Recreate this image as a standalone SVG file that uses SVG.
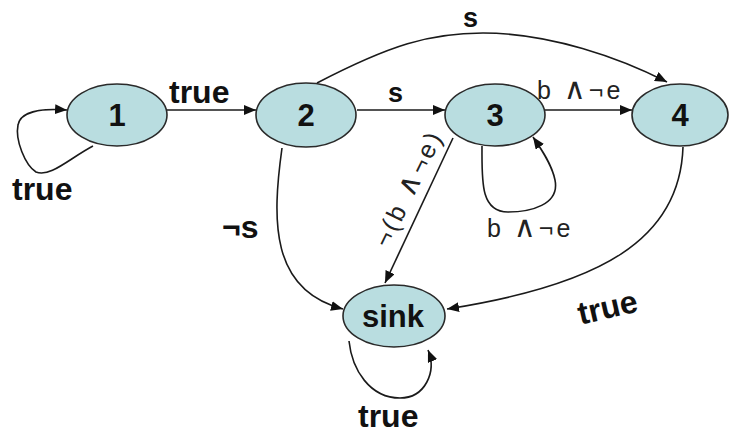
<svg xmlns="http://www.w3.org/2000/svg" width="729" height="436" viewBox="0 0 729 436">
<style>
.node{fill:#b9dde0;stroke:#2a2a2a;stroke-width:1.6}
.nl{font-family:"Liberation Sans","DejaVu Sans",sans-serif;font-weight:bold;font-size:31px;fill:#111;text-anchor:middle}
.e{fill:none;stroke:#1a1a1a;stroke-width:1.6}
.bl{font-family:"Liberation Sans","DejaVu Sans",sans-serif;font-weight:bold;font-size:32px;fill:#111}
.sl{font-family:"Liberation Sans","DejaVu Sans",sans-serif;font-weight:bold;font-size:27px;fill:#111}
.rl{font-family:"Liberation Sans","DejaVu Sans",sans-serif;font-size:25px;fill:#222;letter-spacing:3px}
.w{font-family:"DejaVu Sans",sans-serif;font-size:30px;font-weight:normal}
</style>
<defs>
<marker id="ah" viewBox="0 0 12 10" refX="12" refY="5" markerWidth="12" markerHeight="10" markerUnits="userSpaceOnUse" orient="auto">
<path d="M0,0 L12,5 L0,10 z" fill="#111"/>
</marker>
</defs>
<rect width="729" height="436" fill="#fff"/>
<g id="connectors">
<path class="e" d="M167,110 L256,110" marker-end="url(#ah)"/>
<path class="e" d="M357,110 L445,110" marker-end="url(#ah)"/>
<path class="e" d="M545,110 L632,110" marker-end="url(#ah)"/>
<path class="e" d="M317,83 C390,45 430,33 483,33 C550,33 620,58 667,82" marker-end="url(#ah)"/>
<path class="e" d="M93,146 C70,158 50,178 36,172 C25,165 15,140 18,125 C20,112 40,108 67,110" marker-end="url(#ah)"/>
<path class="e" d="M482,146 C482,180 480,212 508,212 C530,212 560,205 555,180 C552,165 542,150 533,137" marker-end="url(#ah)"/>
<path class="e" d="M453,138 L385,283" marker-end="url(#ah)"/>
<path class="e" d="M282,148 C272,220 270,290 343,309" marker-end="url(#ah)"/>
<path class="e" d="M683,147 C680,240 600,285 447,309" marker-end="url(#ah)"/>
<path class="e" d="M349,341 C352,370 370,398 400,398 C425,398 437,372 428,350" marker-end="url(#ah)"/>
<text class="bl" x="169" y="103">true</text>
<text class="bl" x="12" y="200">true</text>
<text class="sl" x="388" y="102">s</text>
<text class="sl" x="463" y="27">s</text>
<text class="rl" x="537" y="99">b <tspan class="w">∧</tspan>¬e</text>
<text class="rl" x="487" y="237">b <tspan class="w">∧</tspan>¬e</text>
<text class="rl" transform="translate(416,192) rotate(-64)" text-anchor="middle">¬(b <tspan class="w">∧</tspan>¬e)</text>
<text class="bl" x="222" y="238">¬s</text>
<text class="bl" transform="translate(610,318) rotate(-13)" text-anchor="middle">true</text>
<text class="bl" x="358" y="427">true</text>
</g>
<g id="n1"><ellipse class="node" cx="117" cy="115" rx="50" ry="31"/><text class="nl" x="117" y="126">1</text></g>
<g id="n2"><ellipse class="node" cx="306" cy="115" rx="50" ry="32"/><text class="nl" x="306" y="126">2</text></g>
<g id="n3"><ellipse class="node" cx="495" cy="115" rx="50" ry="31"/><text class="nl" x="495" y="126">3</text></g>
<g id="n4"><ellipse class="node" cx="680" cy="115" rx="48" ry="31"/><text class="nl" x="680" y="126">4</text></g>
<g id="sink"><ellipse class="node" cx="394" cy="316" rx="51" ry="31"/><text class="nl" x="393" y="327">sink</text></g>
</svg>
